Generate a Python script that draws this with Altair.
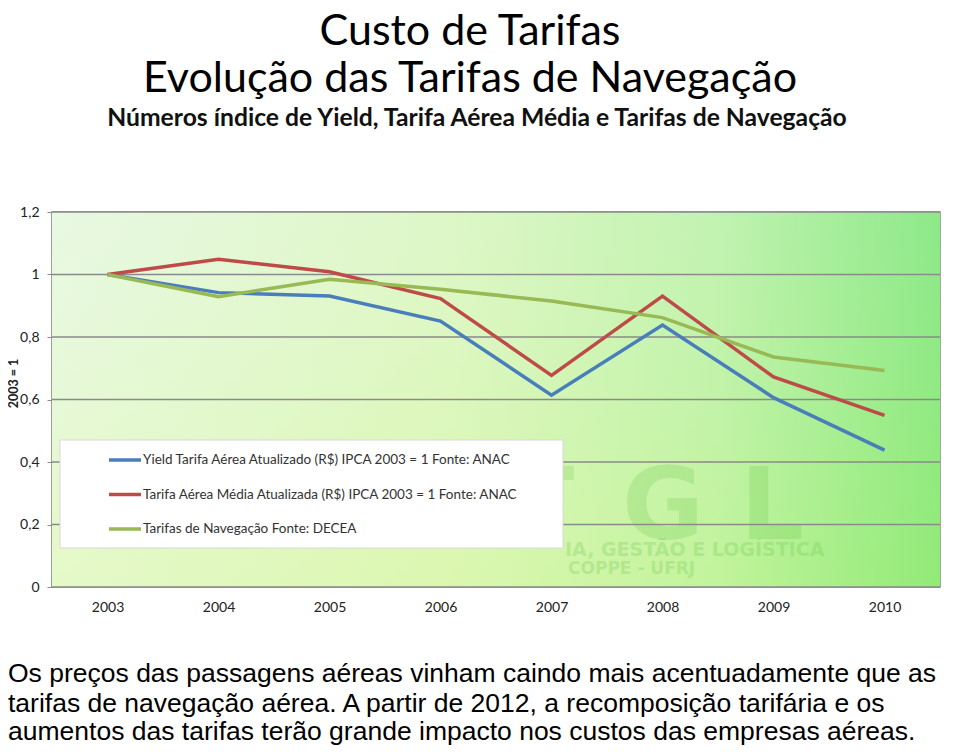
import altair as alt
import pandas as pd

years = ["2003", "2004", "2005", "2006", "2007", "2008", "2009", "2010"]
series_names = [
    "Yield Tarifa Aérea Atualizado (R$) IPCA 2003 = 1  Fonte: ANAC",
    "Tarifa Aérea Média Atualizada (R$) IPCA 2003 = 1 Fonte: ANAC",
    "Tarifas de Navegação Fonte: DECEA",
]
yield_vals = [1.0, 0.942, 0.931, 0.851, 0.614, 0.838, 0.606, 0.438]
tarifa_vals = [1.0, 1.049, 1.009, 0.923, 0.677, 0.931, 0.672, 0.549]
naveg_vals = [1.0, 0.929, 0.985, 0.953, 0.915, 0.862, 0.736, 0.693]
series_colors = ["#4a7ebb", "#be4b48", "#98b954"]
y_ticks = [0, 0.2, 0.4, 0.6, 0.8, 1.0, 1.2]

title_lines = ["Custo de Tarifas", "Evolução das Tarifas de Navegação"]
subtitle = "Números índice de Yield, Tarifa Aérea Média e Tarifas de Navegação"
note_lines = [
    "Os preços das passagens aéreas vinham caindo mais acentuadamente que as",
    "tarifas de navegação aérea. A partir de 2012, a recomposição tarifária e os",
    "aumentos das tarifas terão grande impacto nos custos das empresas aéreas.",
]
watermark_letters = ["T", "G", "L"]
watermark_lines = ["IA, GESTÃO E LOGÍSTICA", "COPPE - UFRJ"]

rows = []
for name, vals in zip(series_names, [yield_vals, tarifa_vals, naveg_vals]):
    for yr, v in zip(years, vals):
        rows.append({"ano": yr, "valor": v, "serie": name})
df = pd.DataFrame(rows)

W, H = 888, 375
FONT = "Lato"

one = alt.Data(values=[{}])

bg = alt.Chart(one).mark_rect(
    fill=alt.LinearGradient(
        gradient="linear", x1=0, x2=1, y1=0, y2=0,
        stops=[
            alt.GradientStop(color="#e3f7dc", offset=0),
            alt.GradientStop(color="#d6f5bb", offset=0.45),
            alt.GradientStop(color="#b4f0a0", offset=0.75),
            alt.GradientStop(color="#74e46f", offset=1),
        ],
    )
).encode(x=alt.value(0), x2=alt.value(W), y=alt.value(0), y2=alt.value(H))

bg2 = alt.Chart(one).mark_rect(
    fill=alt.LinearGradient(
        gradient="linear", x1=0, x2=0, y1=0, y2=1,
        stops=[
            alt.GradientStop(color="rgba(255,255,255,0.18)", offset=0),
            alt.GradientStop(color="rgba(235,255,140,0.25)", offset=1),
        ],
    )
).encode(x=alt.value(0), x2=alt.value(W), y=alt.value(0), y2=alt.value(H))

# faint background watermark
wm = []
for letter, xx in zip(watermark_letters, [488, 611, 720]):
    wm.append(alt.Chart(one).mark_text(text=letter, font="DejaVu Sans", fontWeight="bold",
                                       fontSize=100, align="center", baseline="alphabetic",
                                       color="#5cbf3c", opacity=0.2)
              .encode(x=alt.value(xx), y=alt.value(327)))
wm.append(alt.Chart(one).mark_text(text=watermark_lines[0], font="DejaVu Sans", fontWeight="bold",
                                   fontSize=19, align="left", baseline="alphabetic",
                                   color="#5cbf3c", opacity=0.22)
          .encode(x=alt.value(513), y=alt.value(344)))
wm.append(alt.Chart(one).mark_text(text=watermark_lines[1], font="DejaVu Sans", fontWeight="bold",
                                   fontSize=17, align="left", baseline="alphabetic",
                                   color="#5cbf3c", opacity=0.22)
          .encode(x=alt.value(516), y=alt.value(362)))

grid = alt.Chart(pd.DataFrame({"v": y_ticks})).mark_rule(
    color="#8a8a8a", strokeWidth=1.5
).encode(y=alt.Y("v:Q", scale=alt.Scale(domain=[0, 1.2])))

legend_box = alt.Chart(one).mark_rect(
    fill="white", stroke="#d8d8d8", strokeWidth=1
).encode(x=alt.value(8), x2=alt.value(511), y=alt.value(228), y2=alt.value(336))

lines = alt.Chart(df).mark_line(strokeWidth=3.5).encode(
    x=alt.X("ano:N", sort=years, title=None,
            scale=alt.Scale(paddingInner=0, paddingOuter=0.5),
            axis=alt.Axis(labelAngle=0, ticks=False, domain=False, labelPadding=13,
                          labelFontSize=14, labelFont=FONT, labelColor="#222")),
    y=alt.Y("valor:Q", scale=alt.Scale(domain=[0, 1.2]),
            axis=alt.Axis(values=y_ticks, grid=False, title="2003 = 1",
                          labelExpr="replace(format(datum.value, '.1~f'), '.', ',')",
                          labelFontSize=14, labelFont=FONT, labelColor="#222",
                          labelPadding=8, tickSize=5, tickColor="#8a8a8a",
                          domainColor="#7f8f7f", domainWidth=1.5,
                          titleFont=FONT, titleFontSize=12.5, titleFontWeight="bold",
                          titleColor="#222", titleAngle=270, titleBaseline="middle",
                          titleAlign="center", titleX=-38.5, titleY=171)),
    color=alt.Color("serie:N", sort=series_names,
                    scale=alt.Scale(domain=series_names, range=series_colors),
                    legend=alt.Legend(title=None, orient="none", legendX=55, legendY=230,
                                      symbolType="stroke", symbolSize=1024,
                                      symbolStrokeWidth=3.5, labelFont=FONT,
                                      labelFontSize=13.5, labelColor="#333",
                                      labelLimit=600, rowPadding=9.5, padding=0,
                                      labelOffset=0)),
    order=alt.Order("ano:N"),
)

texts = []
texts.append(alt.Chart(one).mark_text(text=title_lines[0], font=FONT, fontSize=43,
                                      align="center", baseline="alphabetic", color="#000")
             .encode(x=alt.value(418), y=alt.value(-167)))
texts.append(alt.Chart(one).mark_text(text=title_lines[1], font=FONT, fontSize=43,
                                      align="center", baseline="alphabetic", color="#000")
             .encode(x=alt.value(418), y=alt.value(-120)))
texts.append(alt.Chart(one).mark_text(text=subtitle, font=FONT, fontSize=24.7, fontWeight="bold",
                                      align="center", baseline="alphabetic", color="#111")
             .encode(x=alt.value(425), y=alt.value(-86)))
for ln, yy in zip(note_lines, [470, 500, 528]):
    texts.append(alt.Chart(one).mark_text(text=ln, font="Liberation Sans",
                                          fontSize=26.5, align="left", baseline="alphabetic", color="#000")
                 .encode(x=alt.value(-44), y=alt.value(yy)))

chart = alt.layer(bg, bg2, *wm, grid, legend_box, lines, *texts).properties(
    width=W, height=H,
    autosize=alt.AutoSizeParams(type="none"),
    padding={"left": 44, "top": 204, "right": 12, "bottom": 159},
).configure_view(stroke="#7f8f7f", strokeWidth=1.5)

chart.save("out.html", embed_options={"renderer": "svg", "actions": False})
